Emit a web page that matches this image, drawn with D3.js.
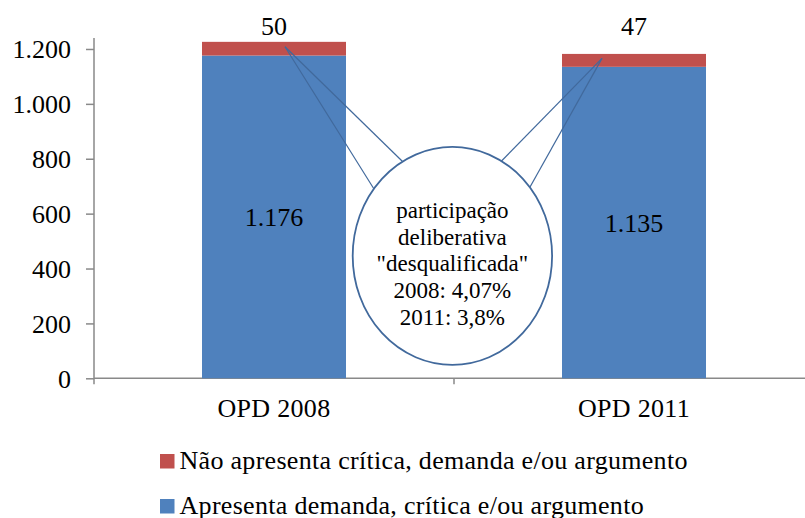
<!DOCTYPE html>
<html>
<head>
<meta charset="utf-8">
<script src="https://cdn.jsdelivr.net/npm/d3@7/dist/d3.min.js"></script>
<style>
  html, body { margin: 0; padding: 0; background: #fff; }
  svg { display: block; }
  text { font-family: "Liberation Serif", "Times New Roman", serif; fill: #000; }
</style>
</head>
<body>
<svg id="chart" width="805" height="518"></svg>
<script>
// ---- data ----
const categories = ["OPD 2008", "OPD 2011"];
const seriesNames = ["Apresenta demanda, crítica e/ou argumento", "Não apresenta crítica, demanda e/ou argumento"];
const apresenta = [1176, 1135];
const naoApresenta = [50, 47];
const apresentaLabels = ["1.176", "1.135"];
const naoLabels = ["50", "47"];
const yTicks = [0, 200, 400, 600, 800, 1000, 1200];
const yTickLabels = ["0", "200", "400", "600", "800", "1.000", "1.200"];
const calloutLines = ["participação", "deliberativa", "\"desqualificada\"", "2008: 4,07%", "2011: 3,8%"];
const colors = ["#4F81BD", "#C0504D"];

const svg = d3.select("#chart");

const x = d3.scaleBand().domain(categories).range([94, 814]).padding(0);
const y = d3.scaleLinear().domain([0, 1240]).range([378.3, 38]);
const barW = x.bandwidth() * 0.4;
const barX = c => x(c) + (x.bandwidth() - barW) / 2;
const axisColor = "#898989";

// axes
const yAxisG = svg.append("g").attr("transform", "translate(94,0)")
  .call(d3.axisLeft(y).tickValues(yTicks).tickFormat((d, i) => yTickLabels[i]).tickSize(8).tickPadding(15));
yAxisG.select(".domain").remove();
yAxisG.selectAll(".tick line").attr("stroke", axisColor).attr("stroke-width", 1.5);
yAxisG.selectAll(".tick text").attr("font-size", 26).attr("fill", "#000").attr("dy", "0.34em");
svg.append("line").attr("x1", 94).attr("x2", 94).attr("y1", y.range()[1]).attr("y2", y(0) + 6)
  .attr("stroke", axisColor).attr("stroke-width", 1.5);

// x axis
svg.append("line").attr("x1", 94).attr("x2", 805).attr("y1", y(0)).attr("y2", y(0))
  .attr("stroke", axisColor).attr("stroke-width", 1.5);
categories.slice(1).forEach(c => {
  svg.append("line").attr("x1", x(c)).attr("x2", x(c)).attr("y1", y(0)).attr("y2", y(0) + 6)
    .attr("stroke", axisColor).attr("stroke-width", 1.5);
});
svg.append("g").selectAll("text").data(categories).join("text")
  .attr("x", d => x(d) + x.bandwidth() / 2).attr("y", y(0) + 39)
  .attr("text-anchor", "middle").attr("font-size", 26).attr("letter-spacing", "0.3px").text(d => d);

// stacked bars
const rows = categories.map((c, i) => ({ cat: c, a: apresenta[i], n: naoApresenta[i] }));
const stack = d3.stack().keys(["a", "n"])(rows);
stack.forEach((layer, li) => {
  svg.append("g").selectAll("rect").data(layer).join("rect")
    .attr("x", d => barX(d.data.cat)).attr("width", barW)
    .attr("y", d => y(d[1])).attr("height", d => y(d[0]) - y(d[1]))
    .attr("fill", colors[li]);
});

// value labels
svg.append("g").selectAll("text").data(rows).join("text")
  .attr("x", d => x(d.cat) + x.bandwidth() / 2)
  .attr("y", d => (y(0) + y(d.a)) / 2).attr("dy", "0.35em")
  .attr("text-anchor", "middle").attr("font-size", 26).text((d, i) => apresentaLabels[i]);
svg.append("g").selectAll("text").data(rows).join("text")
  .attr("x", d => x(d.cat) + x.bandwidth() / 2)
  .attr("y", y.range()[1] - 3)
  .attr("text-anchor", "middle").attr("font-size", 26).text((d, i) => naoLabels[i]);

// callout
const cx = x(categories[1]) - 1.6, cy = y(446), rx = 99.7, ry = 109;
const calloutColor = "#41699c";
const tips = [
  { x: x(categories[0]) + x.bandwidth() / 2 + 11, y: y(apresenta[0] + naoApresenta[0] / 2) - 2, angles: [-142, -120] },
  { x: x(categories[1]) + x.bandwidth() / 2 - 32, y: y(apresenta[1] + naoApresenta[1] / 2) - 2, angles: [-60.5, -39] }
];
tips.forEach(t => {
  t.angles.forEach(a => {
    const r = a * Math.PI / 180;
    svg.append("line").attr("x1", t.x).attr("y1", t.y)
      .attr("x2", cx + rx * Math.cos(r)).attr("y2", cy + ry * Math.sin(r))
      .attr("stroke", calloutColor).attr("stroke-width", 1.2);
  });
});
svg.append("ellipse").attr("cx", cx).attr("cy", cy).attr("rx", rx).attr("ry", ry)
  .attr("fill", "#fff").attr("stroke", calloutColor).attr("stroke-width", 1.8);
svg.append("g").selectAll("text").data(calloutLines).join("text")
  .attr("x", cx).attr("y", (d, i) => 218 + i * 26.7)
  .attr("text-anchor", "middle").attr("font-size", 23).text(d => d);

// legend
const legendItems = [
  { name: seriesNames[1], color: colors[1] },
  { name: seriesNames[0], color: colors[0] }
];
const lg = svg.append("g").selectAll("g").data(legendItems).join("g")
  .attr("transform", (d, i) => `translate(160, ${469 + i * 45})`);
lg.append("rect").attr("y", -15).attr("width", 14.5).attr("height", 14.5).attr("fill", d => d.color);
lg.append("text").attr("x", 19.5).attr("y", 0).attr("font-size", 26).attr("letter-spacing", "0.3px").text(d => d.name);
</script>
</body>
</html>
